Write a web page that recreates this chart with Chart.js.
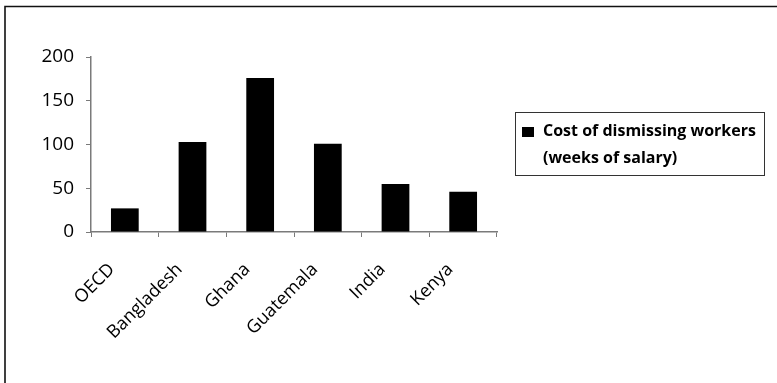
<!DOCTYPE html>
<html>
<head>
<meta charset="utf-8">
<script src="https://cdn.jsdelivr.net/npm/chart.js@4/dist/chart.umd.min.js"></script>
<style>
  html, body { margin: 0; padding: 0; background: #fff; }
  #wrap { width: 777px; height: 383px; position: relative; }
</style>
</head>
<body>
<div id="wrap"><canvas id="c" width="777" height="383"></canvas></div>
<script>
// Dismissal cost by country, in weeks of salary
const categories = ['OECD', 'Bangladesh', 'Ghana', 'Guatemala', 'India', 'Kenya'];
const dismissalWeeks = [27, 103, 176, 101, 55, 46];
const yTicks = [0, 50, 100, 150, 200];
const legendLines = ['Cost of dismissing workers', '(weeks of salary)'];

const AXIS = '#7a7a7a';

// Frame along the top and left edge of the canvas
const framePlugin = {
  id: 'frame',
  beforeDraw(chart) {
    const ctx = chart.ctx;
    ctx.save();
    ctx.fillStyle = '#fff';
    ctx.fillRect(0, 0, chart.width, chart.height);
    ctx.strokeStyle = '#111';
    ctx.lineWidth = 1.6;
    ctx.beginPath();
    ctx.moveTo(5, chart.height);
    ctx.lineTo(5, 6.5);
    ctx.lineTo(chart.width, 6.5);
    ctx.stroke();
    ctx.restore();
  }
};

// Boxed legend on the right with a two-line caption
const boxLegendPlugin = {
  id: 'boxLegend',
  afterDraw(chart) {
    const ctx = chart.ctx;
    const ds = chart.data.datasets[0];
    const x = 515.5, y = 112.5, w = 249, h = 63;
    ctx.save();
    ctx.strokeStyle = '#333';
    ctx.lineWidth = 1;
    ctx.strokeRect(x, y, w, h);
    ctx.fillStyle = ds.backgroundColor;
    ctx.fillRect(522, 127, 12, 10);
    ctx.fillStyle = '#000';
    ctx.font = 'bold 16px "Open Sans"';
    ctx.textBaseline = 'middle';
    ctx.textAlign = 'left';
    legendLines.forEach((line, i) => ctx.fillText(line, 543, 131 + i * 27));
    ctx.restore();
  }
};

new Chart(document.getElementById('c'), {
  type: 'bar',
  data: {
    labels: categories,
    datasets: [{
      label: legendLines.join(' '),
      data: dismissalWeeks,
      backgroundColor: '#000',
      borderWidth: 0,
      barPercentage: 0.41,
      categoryPercentage: 1.0
    }]
  },
  options: {
    responsive: false,
    animation: false,
    devicePixelRatio: 1,
    layout: { padding: { left: 0, right: 280, top: 57, bottom: 0 } },
    plugins: { legend: { display: false }, tooltip: { enabled: false } },
    scales: {
      x: {
        grid: { display: true, drawOnChartArea: false, drawTicks: true, tickLength: 5, color: AXIS, offset: true },
        border: { display: true, color: AXIS, width: 1.5 },
        ticks: {
          color: '#000',
          font: { family: 'Open Sans', size: 18 },
          minRotation: 45, maxRotation: 45,
          padding: 22,
          labelOffset: -13,
          autoSkip: false
        },
        afterFit(scale) { scale.height = 151; }
      },
      y: {
        min: 0, max: 200,
        afterBuildTicks(scale) { scale.ticks = yTicks.map(v => ({ value: v })); },
        grid: { display: true, drawOnChartArea: false, drawTicks: true, tickLength: 5, color: AXIS },
        border: { display: true, color: AXIS, width: 1.5 },
        ticks: {
          color: '#000',
          font: { family: 'Open Sans', size: 19 },
          padding: 12
        },
        afterFit(scale) { scale.width = 91; }
      }
    }
  },
  plugins: [framePlugin, boxLegendPlugin]
});
</script>
</body>
</html>
